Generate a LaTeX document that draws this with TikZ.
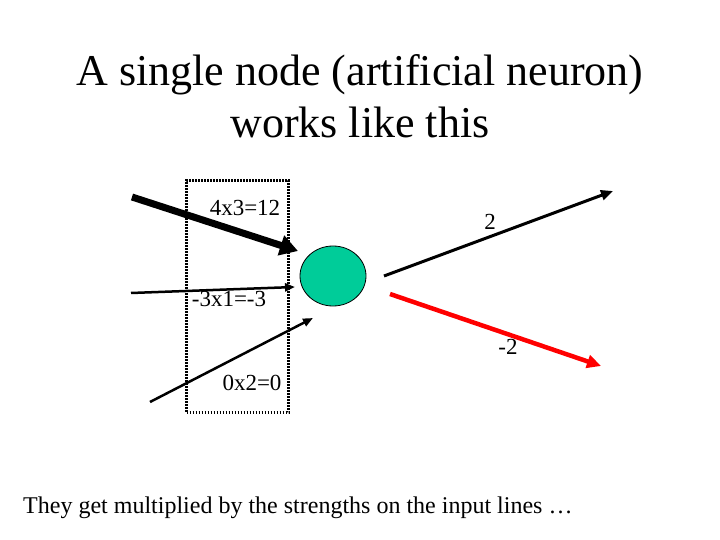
\documentclass[tikz,border=0pt]{standalone}
\usepackage{fontspec}
\setmainfont{Liberation Serif}
\usetikzlibrary{arrows.meta,shapes.geometric}
\definecolor{neurongreen}{RGB}{0,204,153}
\begin{document}
\begin{tikzpicture}[x=1bp,y=-1bp,
  lbl/.style={font=\fontsize{23bp}{26bp}\selectfont, inner sep=0pt},
  thinarrow/.style={line width=2.5bp, -{Triangle[length=10bp,width=8bp]}},
]
\useasboundingbox (0,0) rectangle (720,540);
% title
\node[font=\fontsize{44bp}{52bp}\selectfont, align=center, inner sep=0pt] (title) at (360,96) {A single node (artificial neuron)\\works like this};
% dotted box
\node[draw, line width=3bp, dash pattern=on 1.5bp off 1.5bp, minimum width=102bp, minimum height=232bp, inner sep=0pt] (box) at (237.5,296.5) {};
% neuron
\node[draw, fill=neurongreen, line width=0.8bp, ellipse, minimum width=66bp, minimum height=60bp, inner sep=0pt] (neuron) at (333,276) {};
% coordinates
\coordinate (i1s) at (132,197);
\coordinate (i1e) at (298,251);
\coordinate (i2s) at (131,293);
\coordinate (i2e) at (295,287);
\coordinate (i3s) at (150,402);
\coordinate (i3e) at (313,318);
\coordinate (o1s) at (384,276);
\coordinate (o1e) at (613,191);
\coordinate (o2s) at (390,294);
\coordinate (o2e) at (601,366);
% inputs
\draw[line width=7bp, -{Triangle[length=18bp,width=20bp]}] (i1s) -- (i1e);
\draw[thinarrow] (i2s) -- (i2e);
\draw[thinarrow] (i3s) -- (i3e);
% outputs
\draw[line width=3bp, -{Triangle[length=12bp,width=10bp]}] (o1s) -- (o1e);
\draw[line width=4.5bp, red, -{Triangle[length=14bp,width=13bp]}] (o2s) -- (o2e);
% labels
\node[lbl] (l1) at (245,208) {4x3=12};
\node[lbl] (l2) at (229,299) {-3x1=-3};
\node[lbl] (l3) at (252,383) {0x2=0};
\node[lbl] (l4) at (490,222) {2};
\node[lbl] (l5) at (508,347) {-2};
% caption
\node[font=\fontsize{24bp}{28bp}\selectfont, inner sep=0pt, anchor=west] (cap) at (23,508) {They get multiplied by the strengths on the input lines …};
\end{tikzpicture}
\end{document}
